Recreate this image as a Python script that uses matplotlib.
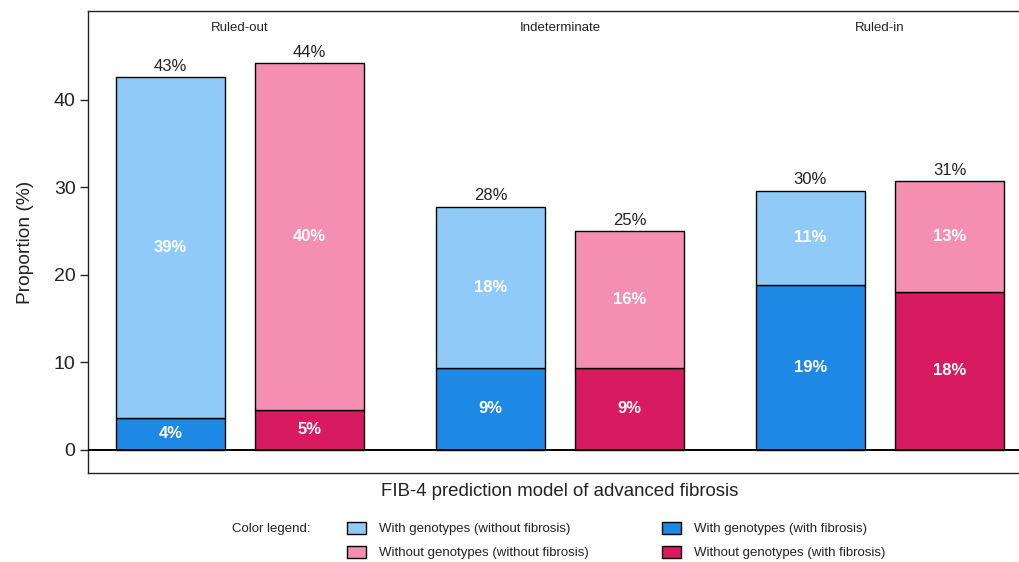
import matplotlib
matplotlib.use("Agg")
import matplotlib.pyplot as plt
from matplotlib.patches import Rectangle
import numpy as np

plt.rcParams["font.family"] = ["Liberation Sans", "DejaVu Sans"]

# FIB-4 categories and stacked proportions (%)
categories = ["Ruled-out", "Indeterminate", "Ruled-in"]
with_geno_fibrosis = [3.7, 9.4, 18.9]
with_geno_no_fibrosis = [38.9, 18.4, 10.7]
without_geno_fibrosis = [4.6, 9.4, 18.1]
without_geno_no_fibrosis = [39.6, 15.6, 12.6]

c_light_blue = "#90CAF9"
c_blue = "#1E88E5"
c_light_pink = "#F48FB1"
c_dark_pink = "#D81B60"

fig = plt.figure(figsize=(10.2, 5.62), dpi=100)
W, H = 1020, 562
ax = fig.add_axes([88 / W, 1 - 473 / H, (W - 88) / W, (473 - 11) / H])

x = np.arange(len(categories))
offset = 0.2172
width = 0.3406

series = [
    (x - offset, with_geno_fibrosis, with_geno_no_fibrosis, c_blue, c_light_blue),
    (x + offset, without_geno_fibrosis, without_geno_no_fibrosis, c_dark_pink, c_light_pink),
]

for xs, low, high, c_low, c_high in series:
    low = np.array(low)
    high = np.array(high)
    ax.bar(xs, low, width, color=c_low, edgecolor="black", linewidth=1.0, zorder=2)
    ax.bar(xs, high, width, bottom=low, color=c_high, edgecolor="black", linewidth=1.0, zorder=2)
    for xi, lo, hi in zip(xs, low, high):
        ax.text(xi, lo / 2, f"{lo:.0f}%", ha="center", va="center", color="white",
                fontsize=12, fontweight="bold", zorder=3)
        ax.text(xi, lo + hi / 2, f"{hi:.0f}%", ha="center", va="center", color="white",
                fontsize=12, fontweight="bold", zorder=3)
        ax.text(xi, lo + hi + 0.4, f"{lo + hi:.0f}%", ha="center", va="bottom",
                color="#222222", fontsize=12, zorder=3)

# Panel titles for each FIB-4 category
for xi, cat in zip(x, categories):
    ax.text(xi, 48.2, cat, ha="center", va="center", fontsize=9.5, color="#222222")

ax.axhline(0, color="black", linewidth=1.4, zorder=4)
ax.set_xlim(-0.475, 2.4375)
ax.set_ylim(-2.63, 50.17)
ax.set_yticks([0, 10, 20, 30, 40])
ax.set_xticks([])
ax.tick_params(axis="y", labelsize=14, length=6, width=1, pad=3,
               colors="#222222", labelcolor="#222222")
ax.spines["right"].set_visible(False)
for side in ["left", "top", "bottom"]:
    ax.spines[side].set_linewidth(1.0)
    ax.spines[side].set_color("#222222")

ax.set_ylabel("Proportion (%)", fontsize=13.8, color="#222222", labelpad=14)
fig.text(560 / W, 1 - 492 / H, "FIB-4 prediction model of advanced fibrosis",
         ha="center", va="center", fontsize=13.4, color="#222222")

# Colour legend
fig.text(232 / W, 1 - 529 / H, "Color legend:", ha="left", va="center", fontsize=9.5, color="#222222")
legend_items = [
    (347, 527, c_light_blue, "With genotypes (without fibrosis)"),
    (347, 551, c_light_pink, "Without genotypes (without fibrosis)"),
    (662, 527, c_blue, "With genotypes (with fibrosis)"),
    (662, 551, c_dark_pink, "Without genotypes (with fibrosis)"),
]
for px, py, col, label in legend_items:
    fig.add_artist(Rectangle((px / W, 1 - (py + 7) / H), 19 / W, 12 / H,
                             transform=fig.transFigure, facecolor=col,
                             edgecolor="black", linewidth=1.0))
    fig.text((px + 32) / W, 1 - (py + 2) / H, label, ha="left", va="center",
             fontsize=9.5, color="#222222")

fig.savefig("out.png", dpi=100)
